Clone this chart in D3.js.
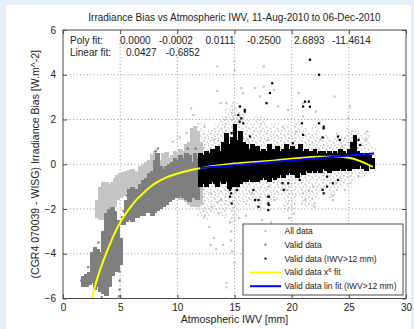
<!DOCTYPE html>
<html>
<head>
<meta charset="utf-8">
<script src="https://cdn.jsdelivr.net/npm/d3@7/dist/d3.min.js"></script>
<style>
  html, body { margin: 0; padding: 0; background: #e6eff9; }
  svg { display: block; font-family: "Liberation Sans", Arial, Helvetica, sans-serif; }
</style>
</head>
<body>
<svg id="chart" width="414" height="329"></svg>
<script>
// ---- axes ----
const xTicks = [0, 5, 10, 15, 20, 25, 30];
const yTicks = [-6, -4, -2, 0, 2, 4, 6];

// ---- fit coefficients as printed ----
const polyLabels = ["0.0000", "-0.0002", "0.0111", "-0.2500", "2.6893", "-11.4614"];
const linCoef = [0.0427, -0.6852];      // slope, intercept (IWV > 12 mm)
const linRange = [12.0, 27.2];          // IWV span of the linear fit

// ---- polynomial fit curve, sampled [IWV mm, bias W/m^2] ----
const polyIwv  = [2.45, 3.0, 3.5, 4.0, 4.5, 5.0, 5.5, 6.0, 6.5, 7.0, 7.5, 8.0, 9.0, 10.0, 11.0, 12.0, 13.5, 15.0, 16.5, 18.0, 19.5, 21.0, 22.5, 24.0, 25.0, 26.0, 27.1];
const polyBias = [-6.1, -5.1, -4.35, -3.7, -3.1, -2.6, -2.2, -1.85, -1.55, -1.3, -1.07, -0.88, -0.6, -0.42, -0.28, -0.18, -0.06, 0.03, 0.09, 0.14, 0.22, 0.29, 0.33, 0.34, 0.29, 0.14, -0.12];

// ---- dense point clouds, per 0.25 mm IWV bin: [IWV, low bias, high bias] ----
const allBands = [
  [3.0,-2.4,-1.6],[3.25,-2.5,-1.0],[3.5,-2.5,-0.8],[3.75,-2.4,-0.8],[4.0,-2.3,-0.9],[4.25,-2.2,-0.8],
  [4.5,-1.9,-0.6],[4.75,-1.6,-0.5],[5.0,-1.5,-0.4],[5.25,-1.4,-0.35],[5.5,-1.3,-0.3],[5.75,-1.3,-0.25],
  [6.0,-1.4,-0.2],[6.25,-1.3,-0.3],[6.5,-1.2,-0.35],[6.75,-1.2,-0.1],[7.0,-1.3,0.0],[7.25,-1.2,0.1],
  [7.5,-1.0,0.2],[7.75,-0.9,0.45],[8.0,-0.9,0.6],[8.25,-1.0,0.3],[8.5,-0.9,0.2],[8.75,-1.0,0.5],
  [9.0,-1.0,0.55],[9.25,-1.1,0.3],[9.5,-1.2,0.4],[9.75,-1.3,0.6],[10.0,-1.5,0.5],[10.25,-1.6,0.7],
  [10.5,-1.6,0.6],[10.75,-1.7,0.9],[11.0,-1.8,1.0],[11.25,-1.9,1.6],[11.5,-1.9,1.7],[11.75,-1.9,1.5],
  [12.0,-1.8,1.0]
];
const validBands = [
  [1.75,-5.5,-5.0],[2.0,-5.5,-4.9],[2.25,-5.4,-4.8],[2.5,-5.3,-3.9],[2.75,-5.6,-3.7],[3.0,-5.5,-3.8],
  [3.25,-5.7,-3.9],[3.5,-5.8,-3.0],[3.75,-5.9,-2.2],[4.0,-5.5,-2.0],[4.25,-5.0,-1.9],[4.5,-4.7,-2.1],
  [4.75,-4.8,-2.5],[5.0,-4.5,-3.3],[5.25,-2.7,-2.3],[5.5,-2.6,-1.6],[5.75,-2.5,-1.1],[6.0,-2.6,-1.0],
  [6.25,-2.4,-1.2],[6.5,-2.4,-1.1],[6.75,-2.3,-0.9],[7.0,-2.3,-0.7],[7.25,-2.2,-0.6],[7.5,-2.2,-0.4],
  [7.75,-2.3,-0.3],[8.0,-2.2,0.2],[8.25,-2.1,0.5],[8.5,-2.0,-0.1],[8.75,-1.9,-0.2],[9.0,-1.8,-0.1],
  [9.25,-1.7,0.0],[9.5,-1.6,0.1],[9.75,-1.5,0.3],[10.0,-1.5,0.2],[10.25,-1.4,0.4],[10.5,-1.5,0.3],
  [10.75,-1.6,0.5],[11.0,-1.7,0.4],[11.25,-1.5,0.1],[11.5,-1.4,0.5],[11.75,-1.6,0.3]
];
const wetBands = [
  [12.0,-1.0,0.5],[12.25,-0.9,0.4],[12.5,-1.0,0.6],[12.75,-0.9,0.5],[13.0,-0.8,0.7],[13.25,-0.9,0.5],
  [13.5,-1.0,0.8],[13.75,-0.8,0.6],[14.0,-0.9,1.0],[14.25,-0.8,1.4],[14.5,-1.1,0.9],[14.75,-1.0,1.2],
  [15.0,-0.9,1.8],[15.25,-1.0,1.1],[15.5,-0.9,1.5],[15.75,-0.8,1.0],[16.0,-0.8,0.9],[16.25,-0.7,0.7],
  [16.5,-0.8,0.9],[16.75,-0.7,0.6],[17.0,-0.8,0.8],[17.25,-0.7,0.6],[17.5,-0.6,0.7],[17.75,-0.7,0.6],
  [18.0,-0.8,0.9],[18.25,-0.6,0.7],[18.5,-0.7,0.6],[18.75,-0.6,0.8],[19.0,-0.5,0.6],[19.25,-0.6,0.7],
  [19.5,-0.5,0.9],[19.75,-0.4,0.7],[20.0,-0.5,0.8],[20.25,-0.4,0.6],[20.5,-0.6,0.7],[20.75,-0.4,0.9],
  [21.0,-0.5,0.6],[21.25,-0.3,0.7],[21.5,-0.4,0.6],[21.75,-0.3,0.6],[22.0,-0.4,0.7],[22.25,-0.3,0.5],
  [22.5,-0.4,0.6],[22.75,-0.2,0.6],[23.0,-0.3,0.5],[23.25,-0.4,0.6],[23.5,-0.3,0.5],[23.75,-0.2,0.6],
  [24.0,-0.3,0.5],[24.25,-0.2,0.7],[24.5,-0.3,0.6],[24.75,-0.2,0.5],[25.0,-0.3,0.7],[25.25,-0.2,1.0],
  [25.5,-0.1,1.3],[25.75,-0.2,0.6],[26.0,-0.1,0.5],[26.25,-0.2,0.4],[26.5,-0.3,0.5],[26.75,-0.1,0.4],
  [27.0,-0.2,0.3]
];
// sparse "all data" scatter around the wet-season cloud, per 0.5 mm bin
const allHaze = [
  [12.0,-2.4,1.9],[12.5,-2.5,1.4],[13.0,-2.2,1.6],[13.5,-2.0,1.8],[14.0,-2.4,2.2],[14.5,-2.0,2.5],
  [15.0,-2.6,2.8],[15.5,-1.8,2.4],[16.0,-1.9,2.0],[16.5,-1.6,1.8],[17.0,-2.1,2.2],[17.5,-1.5,2.0],
  [18.0,-1.8,1.7],[18.5,-1.6,1.9],[19.0,-1.4,1.6],[19.5,-2.2,1.8],[20.0,-2.0,1.5],[20.5,-1.4,2.0],
  [21.0,-1.8,1.6],[21.5,-1.9,1.4],[22.0,-1.6,1.8],[22.5,-1.2,1.2],[23.0,-1.0,1.3],[23.5,-1.5,1.1],
  [24.0,-1.2,1.4],[24.5,-0.9,1.2],[25.0,-1.0,1.6],[25.5,-0.7,1.5],[26.0,-0.6,1.3],[26.5,-0.5,1.5],
  [27.0,-0.4,0.8]
];

// ---- isolated points: [IWV, bias] ----
const allPoints = [
  [13.5,4.37],[15.0,4.6],[15.0,4.2],[17.56,4.37],[13.8,2.73],[14.3,2.73],[13.5,3.28],[15.6,3.4],
  [15.75,3.18],[16.8,3.4],[17.25,3.03],[17.56,3.47],[18.46,3.32],[18.8,2.58],[19.7,2.43],[20.6,3.18],
  [21.0,2.73],[21.0,2.13],[22.1,2.35],[23.75,3.03],[25.1,2.58],[24.95,2.06],[26.6,1.46],[26.55,1.09],
  [12.4,1.68],[13.2,1.09],[14.1,1.39],[15.0,0.79],[16.2,1.09],[18.0,1.09],[19.2,1.68],[20.4,1.46],
  [22.5,1.09],[24.35,0.79],[25.25,0.86],[12.9,-1.3],[13.8,-1.6],[15.3,-1.0],[16.5,-1.3],[18.0,-1.0],
  [18.5,-1.6],[19.5,-1.15],[21.0,-1.3],[21.9,-1.0],[22.0,-1.75],[23.9,-0.85],[24.65,-1.15],[25.85,-0.55],
  [12.8,-2.8],[13.2,-3.3],[13.6,-2.2],[14.0,-3.6],[14.6,-2.6],[14.7,-3.0],[14.7,-3.4],[14.8,-3.9],
  [15.4,-2.4],[15.0,-4.4],[14.3,-5.5],[13.0,-1.9],[13.5,-1.7],[12.4,-2.3],[12.9,-3.6],[13.4,-3.8],
  [14.3,-5.3],[21.2,-1.6],[21.5,-1.2],[22.0,-1.9],[23.6,-1.4],[23.6,-1.6],[19.8,-2.4],[20.2,-2.2],
  [11.4,2.2],[11.2,2.5],[10.8,1.4],[10.2,1.2],[9.6,1.0],[16.0,-2.3],[17.4,-2.5],[18.2,-2.6]
];
const validPoints = [
  [4.95,-4.8],[4.95,-5.2],[4.95,-5.6],[4.9,-5.9],[3.4,-5.95],[1.6,-5.2],[2.2,-4.6],[3.1,-3.5],
  [5.3,-2.1],[5.6,-1.4],[8.1,0.6],[8.3,0.7],[11.6,0.7],[10.9,0.7]
];
const wetPoints = [
  [15.48,2.58],[15.33,2.2],[15.77,1.83],[14.75,1.39],[16.36,1.24],[15.04,1.68],[15.9,2.43],[15.6,2.05],
  [18.1,3.18],[17.8,2.73],[14.6,-1.15],[14.6,-1.45],[14.75,-1.75],[15.2,-1.15],[17.96,-1.45],[17.96,-1.75],
  [17.96,-2.05],[16.65,-1.15],[16.8,-1.6],[21.6,4.67],[22.4,4.0],[18.3,3.62],[21.5,2.8],[21.6,2.57],
  [15.9,2.35],[15.45,1.9],[22.4,1.83],[25.85,1.09],[26.0,0.86],[24.05,1.24],[21.0,1.31],[22.8,1.6],
  [20.1,0.94],[17.1,-1.6],[17.1,-1.9],[14.7,-1.3],[18.0,-1.45],[18.0,-1.82],[23.1,-1.0],[22.8,-1.3],
  [19.2,-0.85],[20.7,-0.7],[24.05,-0.7],[21.17,2.8],[21.0,2.58],[20.9,1.83],[22.8,1.68],[22.7,1.2],
  [24.2,1.09],[25.5,0.94],[23.1,-0.55],[22.7,-1.14],[23.6,-0.85],[19.7,-0.85],[19.3,-1.14]
];

// ---- legend ----
const legendItems = [
  { label: "All data",                   kind: "dot",  color: "#c4c4c4" },
  { label: "Valid data",                 kind: "dot",  color: "#7f7f7f" },
  { label: "Valid data (IWV>12 mm)",     kind: "dot",  color: "#000000" },
  { label: "Valid data x",  sup: "6", tail: " fit", kind: "line", color: "#ffff00" },
  { label: "Valid data lin fit (IWV>12 mm)", kind: "line", color: "#0000ff" }
];

const colors = { all: "#c4c4c4", valid: "#7f7f7f", wet: "#000000", poly: "#ffff00", lin: "#0000ff" };

// ---------------------------------------------------------------
const svg = d3.select("#chart");
const W = 414, H = 329;
const plot = { left: 63, right: 406, top: 30, bottom: 298.5 };

// figure panel
svg.append("rect").attr("x", 6).attr("y", 5).attr("width", 405).attr("height", H - 5).attr("fill", "#ffffff");

const x = d3.scaleLinear().domain([0, 30]).range([plot.left, plot.right]);
const y = d3.scaleLinear().domain([-6, 6]).range([plot.bottom, plot.top]);

const defs = svg.append("defs");
defs.append("clipPath").attr("id", "plotClip")
  .append("rect").attr("x", plot.left).attr("y", plot.top)
  .attr("width", plot.right - plot.left).attr("height", plot.bottom - plot.top);
// irregular speckle tile for the sparse scatter halo
const speckle = defs.append("pattern").attr("id", "speckle")
  .attr("patternUnits", "userSpaceOnUse").attr("width", 7).attr("height", 7);
[[0, 0, 1.6], [3.5, 1.5, 1.3], [1.2, 4.2, 1.5], [5.1, 5.0, 1.2], [4.6, 3.0, 1.0]].forEach(p =>
  speckle.append("rect").attr("x", p[0]).attr("y", p[1]).attr("width", p[2]).attr("height", p[2])
    .attr("fill", colors.all));

// grid
const grid = svg.append("g").attr("stroke", "#777").attr("stroke-width", 0.8).attr("stroke-dasharray", "1,2.4");
grid.selectAll("line.gx").data(xTicks.filter(d => d > 0 && d < 30)).join("line")
  .attr("x1", d => x(d)).attr("x2", d => x(d)).attr("y1", plot.top).attr("y2", plot.bottom);
grid.selectAll("line.gy").data(yTicks.filter(d => d > -6 && d < 6)).join("line")
  .attr("y1", d => y(d)).attr("y2", d => y(d)).attr("x1", plot.left).attr("x2", plot.right);

// data layer
const data = svg.append("g").attr("clip-path", "url(#plotClip)");
function bands(rows, fill, step) {
  data.append("g").attr("shape-rendering", "crispEdges")
    .selectAll("rect").data(rows).join("rect")
    .attr("x", d => Math.floor(x(d[0] - step / 2)))
    .attr("width", d => Math.ceil(x(d[0] + step / 2)) - Math.floor(x(d[0] - step / 2)) + 1)
    .attr("y", d => y(d[2]))
    .attr("height", d => y(d[1]) - y(d[2]))
    .attr("fill", fill);
}
function dots(rows, fill, s) {
  data.append("g").selectAll("rect").data(rows).join("rect")
    .attr("x", d => x(d[0]) - s / 2).attr("y", d => y(d[1]) - s / 2)
    .attr("width", s).attr("height", s).attr("fill", fill);
}
bands(allHaze, "url(#speckle)", 0.5);
bands(allBands, colors.all, 0.25);
dots(allPoints, colors.all, 2.2);
bands(validBands, colors.valid, 0.25);
dots(validPoints, colors.valid, 2.2);
bands(wetBands, colors.wet, 0.25);
dots(wetPoints, colors.wet, 2.2);

// fits
const polyLine = d3.line().x(d => x(d[0])).y(d => y(d[1])).curve(d3.curveMonotoneX);
data.append("path").datum(polyIwv.map((v, i) => [v, polyBias[i]]))
  .attr("d", polyLine).attr("fill", "none").attr("stroke", colors.poly).attr("stroke-width", 2);
data.append("path").datum(linRange.map(v => [v, linCoef[0] * v + linCoef[1]]))
  .attr("d", d3.line().x(d => x(d[0])).y(d => y(d[1])))
  .attr("fill", "none").attr("stroke", colors.lin).attr("stroke-width", 2);

// axes frame and ticks (inward, all four sides)
const axisColor = "#4a4a4a";
const gB = svg.append("g").attr("transform", `translate(0,${plot.bottom})`)
  .call(d3.axisBottom(x).tickValues(xTicks).tickSize(-4).tickPadding(5).tickFormat(d3.format("d")));
const gT = svg.append("g").attr("transform", `translate(0,${plot.top})`)
  .call(d3.axisTop(x).tickValues(xTicks).tickSize(-4).tickFormat(""));
const gL = svg.append("g").attr("transform", `translate(${plot.left},0)`)
  .call(d3.axisLeft(y).tickValues(yTicks).tickSize(-4).tickPadding(7).tickFormat(d3.format("d")));
const gR = svg.append("g").attr("transform", `translate(${plot.right},0)`)
  .call(d3.axisRight(y).tickValues(yTicks).tickSize(-4).tickFormat(""));
[gB, gT, gL, gR].forEach(g => {
  g.select(".domain").remove();
  g.selectAll("line").attr("stroke", axisColor);
  g.selectAll("text").attr("fill", "#222").attr("font-size", 10)
    .attr("font-family", "\"Liberation Sans\", Arial, sans-serif");
});
svg.append("rect").attr("x", plot.left).attr("y", plot.top)
  .attr("width", plot.right - plot.left).attr("height", plot.bottom - plot.top)
  .attr("fill", "none").attr("stroke", axisColor).attr("stroke-width", 1);

// titles
svg.append("text").attr("x", (plot.left + plot.right) / 2).attr("y", 21)
  .attr("text-anchor", "middle").attr("font-size", 10).attr("fill", "#222")
  .text("Irradiance Bias vs Atmospheric IWV, 11-Aug-2010 to 06-Dec-2010");
svg.append("text").attr("x", (plot.left + plot.right) / 2).attr("y", 323)
  .attr("text-anchor", "middle").attr("font-size", 10.5).attr("fill", "#222")
  .text("Atmospheric IWV [mm]");
svg.append("text")
  .attr("transform", `translate(39,${(plot.top + plot.bottom) / 2}) rotate(-90)`)
  .attr("text-anchor", "middle").attr("font-size", 10.5).attr("fill", "#222")
  .text("(CGR4 070039 - WISG) Irradiance Bias [W.m^-2]");

// fit coefficient annotations
const notes = svg.append("g").attr("font-size", 10).attr("fill", "#222");
notes.append("text").attr("x", 70).attr("y", 44).text("Poly fit:");
const polyX = [120, 159, 205.5, 247, 294, 332];
polyLabels.forEach((t, i) => notes.append("text").attr("x", polyX[i]).attr("y", 44).text(t));
notes.append("text").attr("x", 70).attr("y", 56).text("Linear fit:");
const linX = [126, 166];
linCoef.forEach((c, i) => notes.append("text").attr("x", linX[i]).attr("y", 56).text(d3.format(".4f")(c).replace("\u2212", "-")));

// legend
const lg = svg.append("g");
const box = { x: 243, y: 224, w: 160, h: 71 };
lg.append("rect").attr("x", box.x).attr("y", box.y).attr("width", box.w).attr("height", box.h)
  .attr("fill", "#fff").attr("stroke", axisColor).attr("stroke-width", 1);
legendItems.forEach((it, i) => {
  const cy = box.y + 7 + i * 13.8;
  if (it.kind === "dot") {
    lg.append("rect").attr("x", 264.5).attr("y", cy - 1).attr("width", 2).attr("height", 2).attr("fill", it.color);
  } else {
    lg.append("line").attr("x1", 250).attr("x2", 281).attr("y1", cy).attr("y2", cy)
      .attr("stroke", it.color).attr("stroke-width", 2);
  }
  const t = lg.append("text").attr("x", 284.5).attr("y", cy + 3).attr("font-size", 8.5).attr("fill", "#222");
  t.append("tspan").text(it.label);
  if (it.sup) {
    t.append("tspan").attr("font-size", 6).attr("dy", -3.5).text(it.sup);
    t.append("tspan").attr("dy", 3.5).text(it.tail);
  }
});
</script>
</body>
</html>
